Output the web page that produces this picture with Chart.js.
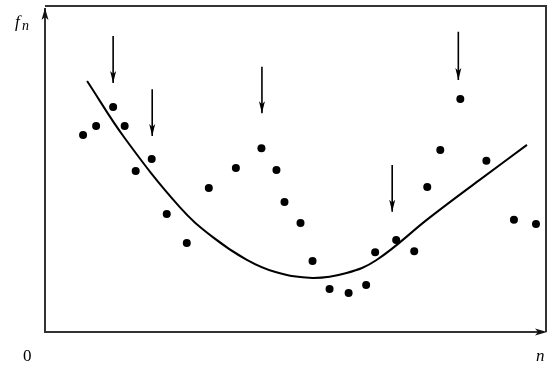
<!DOCTYPE html>
<html>
<head>
<meta charset="utf-8">
<script src="https://cdn.jsdelivr.net/npm/chart.js@4/dist/chart.umd.min.js"></script>
<style>
  html, body { margin: 0; padding: 0; background: #fff; }
  #wrap { width: 550px; height: 367px; }
</style>
</head>
<body>
<div id="wrap"><canvas id="c" width="550" height="367"></canvas></div>
<script>
// Observed samples f_n at position n
const sampleN = [7.6, 10.2, 13.6, 15.9, 18.1, 21.3, 24.3, 28.3, 32.7, 38.1, 43.2, 46.2, 47.8, 51.0,
                 53.4, 56.8, 60.6, 64.1, 65.9, 70.1, 73.7, 76.3, 78.9, 82.9, 88.1, 93.6, 98.0];
const sampleF = [60.4, 63.2, 69.0, 63.2, 49.4, 53.1, 36.2, 27.3, 44.2, 50.3, 56.4, 49.7, 39.9, 33.4,
                 21.8, 13.2, 12.0, 14.4, 24.5, 28.2, 24.8, 44.5, 55.8, 71.5, 52.5, 34.4, 33.1];

// Smooth trend curve
const trendN = [8.4, 15.9, 26.9, 33.5, 40.2, 46.0, 53.4, 60.2, 66.1, 76.7, 86.7, 96.2];
const trendF = [77.0, 59.5, 38.3, 29.1, 22.2, 18.4, 16.6, 18.1, 22.0, 35.0, 46.6, 57.4];

// Marker arrows: position, start height, tip height
const arrowN    = [13.6, 21.4, 43.3, 69.3, 82.5];
const arrowTop  = [90.8, 74.5, 81.4, 51.2, 92.1];
const arrowTip  = [76.4, 60.1, 67.1, 36.9, 77.3];

const axisLabelY = 'f';
const axisLabelYSub = 'n';
const axisLabelX = 'n';
const originLabel = '0';

const datasets = [
  {
    type: 'scatter',
    data: sampleN.map((n, i) => ({ x: n, y: sampleF[i] })),
    pointRadius: 4, pointHoverRadius: 4,
    backgroundColor: '#000', borderColor: '#000', borderWidth: 0
  },
  {
    type: 'line',
    data: trendN.map((n, i) => ({ x: n, y: trendF[i] })),
    borderColor: '#000', borderWidth: 2, pointRadius: 0,
    tension: 0.4, fill: false
  }
];
arrowN.forEach((n, i) => {
  datasets.push({
    type: 'line',
    isArrow: true,
    data: [{ x: n, y: arrowTop[i] }, { x: n, y: arrowTip[i] }],
    borderColor: '#000', borderWidth: 1.6, pointRadius: 0, fill: false
  });
});

const decor = {
  id: 'decor',
  afterDatasetsDraw(chart) {
    const { ctx, chartArea: a, scales } = chart;
    ctx.save();
    // arrowheads on the marker arrows
    ctx.fillStyle = '#000';
    chart.data.datasets.forEach(ds => {
      if (!ds.isArrow) return;
      const x = scales.x.getPixelForValue(ds.data[1].x);
      const yt = scales.y.getPixelForValue(ds.data[1].y);
      ctx.beginPath();
      ctx.moveTo(x, yt);
      ctx.lineTo(x - 3, yt - 12);
      ctx.lineTo(x, yt - 9);
      ctx.lineTo(x + 3, yt - 12);
      ctx.closePath();
      ctx.fill();
    });
    // frame
    ctx.strokeStyle = '#333';
    ctx.lineWidth = 2;
    ctx.beginPath();
    ctx.moveTo(a.left, a.bottom);
    ctx.lineTo(a.left, a.top + 2);
    ctx.moveTo(a.left, a.top);
    ctx.lineTo(a.right, a.top);
    ctx.lineTo(a.right, a.bottom);
    ctx.moveTo(a.left - 1, a.bottom);
    ctx.lineTo(a.right - 4, a.bottom);
    ctx.stroke();
    // axis arrowheads
    ctx.fillStyle = '#111';
    ctx.beginPath();
    ctx.moveTo(a.left, a.top + 2);
    ctx.lineTo(a.left - 3.5, a.top + 14);
    ctx.lineTo(a.left, a.top + 11);
    ctx.lineTo(a.left + 3.5, a.top + 14);
    ctx.closePath();
    ctx.fill();
    ctx.beginPath();
    ctx.moveTo(a.right + 1, a.bottom);
    ctx.lineTo(a.right - 11, a.bottom - 3.5);
    ctx.lineTo(a.right - 8, a.bottom);
    ctx.lineTo(a.right - 11, a.bottom + 3.5);
    ctx.closePath();
    ctx.fill();
    // labels
    ctx.fillStyle = '#000';
    ctx.textBaseline = 'alphabetic';
    ctx.font = 'italic 17px "Liberation Serif", "DejaVu Serif", serif';
    ctx.fillText(axisLabelY, 15, 27);
    ctx.font = 'italic 14px "Liberation Serif", "DejaVu Serif", serif';
    ctx.fillText(axisLabelYSub, 22, 30);
    ctx.font = 'italic 17px "Liberation Serif", "DejaVu Serif", serif';
    ctx.fillText(axisLabelX, 536, 361);
    ctx.font = '17px "Liberation Serif", "DejaVu Serif", serif';
    ctx.fillText(originLabel, 23, 361);
    ctx.restore();
  }
};

new Chart(document.getElementById('c'), {
  data: { datasets },
  options: {
    responsive: false,
    animation: false,
    layout: { padding: { left: 45, top: 6, right: 3, bottom: 35 } },
    plugins: { legend: { display: false }, tooltip: { enabled: false } },
    scales: {
      x: { type: 'linear', min: 0, max: 100, display: false },
      y: { type: 'linear', min: 0, max: 100, display: false }
    }
  },
  plugins: [decor]
});
</script>
</body>
</html>
